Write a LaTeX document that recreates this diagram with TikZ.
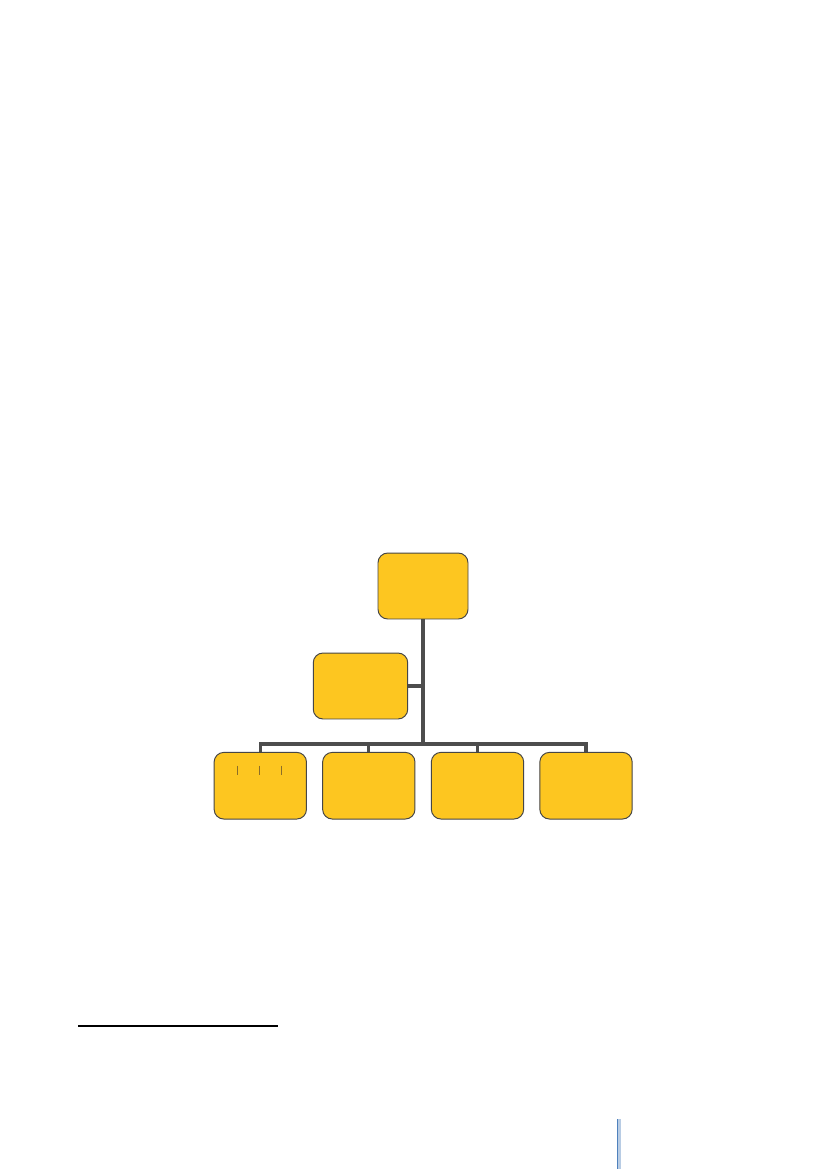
\documentclass[tikz,border=0pt]{standalone}
\begin{document}
\begin{tikzpicture}[x=0.72pt,y=-0.72pt,
  orgbox/.style={draw=boxline,fill=boxfill,line width=0.7pt,rounded corners=7pt,
    inner sep=0pt,minimum width=#1},
  orgbox/.default={67pt},
  conn/.style={draw=connline,line width=2.2pt},
  tick/.style={draw=tickcol,line width=0.8pt}]
\definecolor{boxfill}{RGB}{253,198,32}
\definecolor{boxline}{RGB}{70,70,70}
\definecolor{connline}{RGB}{77,77,77}
\definecolor{tickcol}{RGB}{140,110,40}
\definecolor{bardark}{RGB}{79,129,189}
\definecolor{barlight}{RGB}{184,204,228}
\useasboundingbox[fill=white] (0,0) rectangle (827,1169);
% boxes
\node[orgbox={64.8pt},minimum height=47.5pt] (top) at (423,586) {};
\node[orgbox={68pt},minimum height=47.5pt] (mid) at (360.5,686) {};
\node[orgbox={66.5pt},minimum height=48pt] (b1) at (260.3,785.7) {};
\node[orgbox={66.5pt},minimum height=48pt] (b2) at (368.8,785.7) {};
\node[orgbox={66.5pt},minimum height=48pt] (b3) at (477.5,785.7) {};
\node[orgbox={66.5pt},minimum height=48pt] (b4) at (586,785.7) {};
% connectors
\coordinate (bar) at (423,744);
\draw[conn] (top.south) -- (bar);
\draw[conn] (b1.north) |- (bar);
\draw[conn] (b4.north) |- (bar);
\draw[conn] (b2.north) -- (b2.north |- bar);
\draw[conn] (b3.north) -- (b3.north |- bar);
\draw[conn] (mid.east) -- (mid.east -| top.south);
% small marks in first box
\coordinate (t1a) at (237.3,765.7); \coordinate (t1b) at (237.3,775);
\coordinate (t2a) at (259.7,765.7); \coordinate (t2b) at (259.7,775);
\coordinate (t3a) at (281.7,765.7); \coordinate (t3b) at (281.7,775);
\draw[tick] (t1a) -- (t1b);
\draw[tick] (t2a) -- (t2b);
\draw[tick] (t3a) -- (t3b);
% footnote rule
\coordinate (fa) at (78.3,1026); \coordinate (fb) at (278.3,1026);
\draw[black,line width=0.8pt] (fa) -- (fb);
% blue bar bottom
\fill[bardark] (617,1119) rectangle (618.3,1169);
\fill[barlight] (618.3,1119) rectangle (620.5,1169);
\end{tikzpicture}
\end{document}
